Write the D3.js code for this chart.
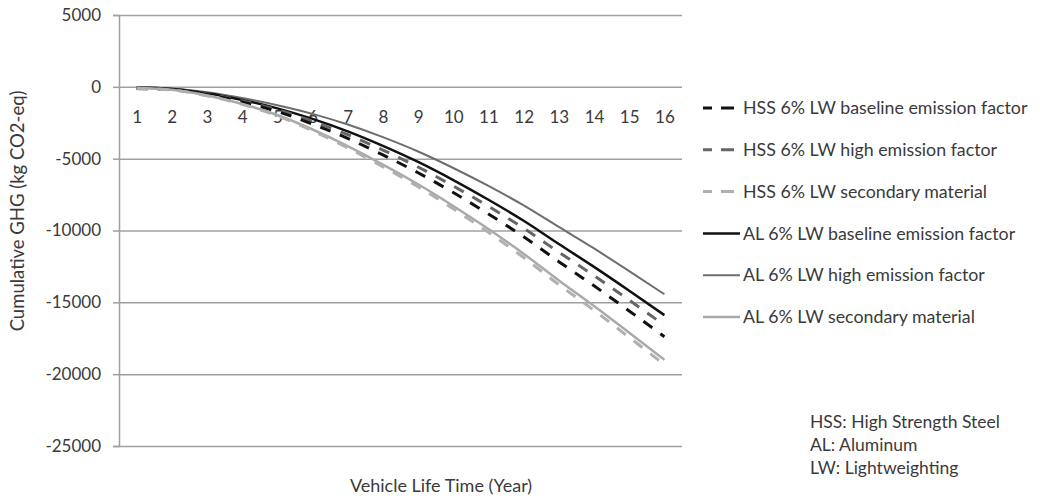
<!DOCTYPE html>
<html lang="en">
<head>
<meta charset="UTF-8">
<title>Cumulative GHG</title>
<script src="https://d3js.org/d3.v7.min.js"></script>
<style>
  body { margin: 0; background: #fff; }
  svg text { font-family: Lato, "Open Sans", sans-serif; fill: #3a3a3a; }
</style>
</head>
<body>
<svg width="1040" height="500"></svg>
<script>
// data (kg CO2-eq)
const years = ["1","2","3","4","5","6","7","8","9","10","11","12","13","14","15","16"];
const yTicks = [5000, 0, -5000, -10000, -15000, -20000, -25000];

const hssBaseline  = [-120, -180, -530, -1050, -1720, -2590, -3590, -4740, -5980, -7360, -8850, -10430, -12170, -13850, -15600, -17390];
const hssHigh      = [-90, -165, -490, -975, -1600, -2400, -3330, -4400, -5580, -6900, -8320, -9840, -11510, -13140, -14850, -16590];
const hssSecondary = [-130, -220, -630, -1220, -2020, -3060, -4240, -5560, -6950, -8490, -10130, -11880, -13770, -15560, -17440, -19340];
const alBaseline   = [-50, -150, -450, -910, -1500, -2230, -3100, -4110, -5230, -6490, -7860, -9320, -10940, -12530, -14190, -15890];
const alHigh       = [-30, -120, -380, -780, -1280, -1880, -2620, -3500, -4500, -5650, -6900, -8250, -9750, -11250, -12830, -14440];
const alSecondary  = [-60, -210, -610, -1190, -1960, -2970, -4120, -5410, -6780, -8290, -9900, -11620, -13480, -15250, -17110, -18990];

const seriesNames = [
  "HSS 6% LW baseline emission factor",
  "HSS 6% LW high emission factor",
  "HSS 6% LW secondary material",
  "AL 6% LW baseline emission factor",
  "AL 6% LW high emission factor",
  "AL 6% LW secondary material"
];
const seriesValues = [hssBaseline, hssHigh, hssSecondary, alBaseline, alHigh, alSecondary];
const notes = ["HSS: High Strength Steel", "AL: Aluminum", "LW: Lightweighting"];

// line styles per series
const styles = [
  { color: "#111", width: 3, dash: "11,10" },
  { color: "#666", width: 3, dash: "11,10" },
  { color: "#b0b0b0", width: 3, dash: "11,10" },
  { color: "#111", width: 2.5, dash: null },
  { color: "#6e6e6e", width: 2, dash: null },
  { color: "#aaa", width: 2.5, dash: null }
];

const svg = d3.select("svg");
const plotLeft = 119, plotRight = 682, plotTop = 15, plotBottom = 446;

const x = d3.scalePoint().domain(years).range([plotLeft, plotRight]).padding(0.5);
const y = d3.scaleLinear().domain([-25000, 5000]).range([plotBottom, plotTop]);

// gridlines
svg.append("g")
  .attr("transform", `translate(${plotLeft},0)`)
  .call(d3.axisLeft(y).tickValues(yTicks).tickSize(-(plotRight - plotLeft)).tickFormat(""))
  .call(g => g.select(".domain").remove())
  .call(g => g.selectAll("line").attr("stroke", "#a0a0a0").attr("stroke-width", 1.5));

// y axis (plain hyphen for negatives, like the original)
svg.append("g")
  .attr("transform", `translate(${plotLeft},0)`)
  .call(d3.axisLeft(y).tickValues(yTicks).tickSize(6).tickPadding(12).tickFormat(d => String(d)))
  .call(g => g.select(".domain").attr("stroke", "#a0a0a0").attr("stroke-width", 1.5))
  .call(g => g.selectAll("line").attr("stroke", "#a0a0a0").attr("stroke-width", 1.5))
  .call(g => g.selectAll("text").attr("font-size", "17px").style("font-family", "Lato, sans-serif"));

// category axis at y = 0
svg.append("g")
  .attr("transform", `translate(0,${y(0)})`)
  .call(d3.axisBottom(x).tickSize(0).tickPadding(24))
  .call(g => g.select(".domain").remove())
  .call(g => g.selectAll("text").attr("font-size", "17px").style("font-family", "Lato, sans-serif"));

// lines
const line = d3.line()
  .x((d, i) => x(years[i]))
  .y(d => y(d))
  .curve(d3.curveMonotoneX);

const drawOrder = [4, 3, 1, 0, 5, 2];
drawOrder.forEach(k => {
  svg.append("path")
    .datum(seriesValues[k])
    .attr("fill", "none")
    .attr("stroke", styles[k].color)
    .attr("stroke-width", styles[k].width)
    .attr("stroke-dasharray", styles[k].dash)
    .attr("d", line);
});

// legend
const legend = svg.append("g").attr("transform", "translate(703,108)");
seriesNames.forEach((name, i) => {
  const row = legend.append("g").attr("transform", `translate(0,${i * 41.8})`);
  row.append("line")
    .attr("x1", 0).attr("x2", 37).attr("y1", 0).attr("y2", 0)
    .attr("stroke", styles[i].color)
    .attr("stroke-width", styles[i].width)
    .attr("stroke-dasharray", styles[i].dash ? "9,9,13,9" : null);
  row.append("text")
    .attr("x", 40).attr("y", 0).attr("dy", "0.35em")
    .attr("font-size", "17.8px")
    .text(name);
});

// notes
svg.append("g").selectAll("text")
  .data(notes)
  .join("text")
  .attr("x", 810)
  .attr("y", (d, i) => 422 + i * 22.8)
  .attr("dy", "0.35em")
  .attr("font-size", "17.5px")
  .text(d => d);

// axis titles
svg.append("text")
  .attr("transform", "translate(18,211) rotate(-90)")
  .attr("text-anchor", "middle")
  .attr("dy", "0.35em")
  .attr("font-size", "18.5px")
  .text("Cumulative GHG (kg CO2-eq)");

svg.append("text")
  .attr("x", 441).attr("y", 486)
  .attr("text-anchor", "middle")
  .attr("dy", "0.35em")
  .attr("font-size", "18px")
  .text("Vehicle Life Time (Year)");
</script>
</body>
</html>
